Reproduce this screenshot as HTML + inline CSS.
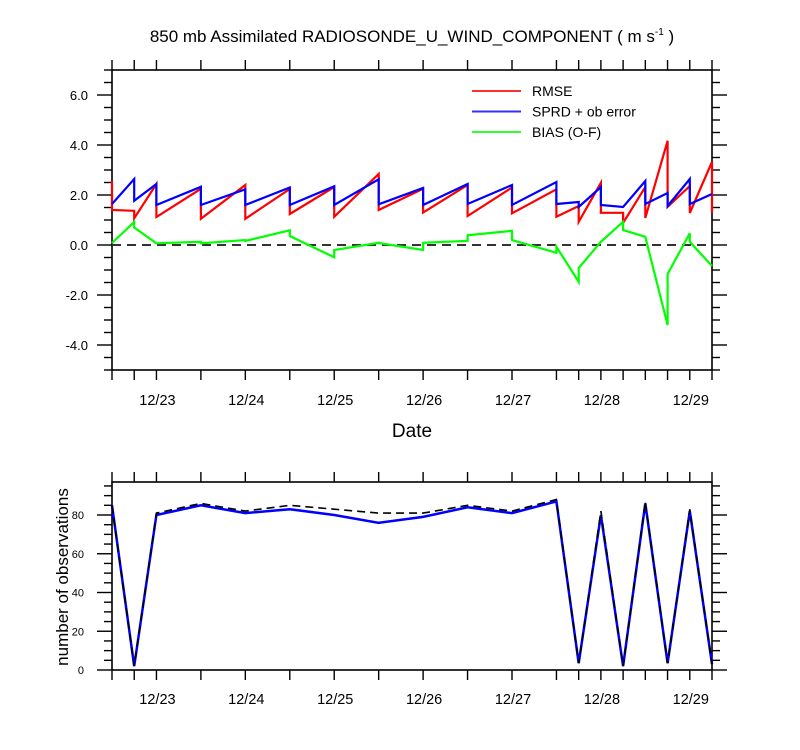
<!DOCTYPE html>
<html><head><meta charset="utf-8"><style>
body{margin:0;background:#fff}
svg{display:block;font-family:"Liberation Sans",sans-serif}
</style></head><body>
<svg id="c" width="800" height="750" viewBox="0 0 800 750"></svg>
<script>
// times in days relative to 12/23 00Z
const times=[-0.5,-0.25,0,0.5,1,1.5,2,2.5,3,3.5,4,4.5,4.75,5,5.25,5.5,5.75,6,6.25];
const rmsePre =[2.56,1.37,2.44,2.25,2.4,2.24,2.32,2.84,2.25,2.4,2.3,2.23,1.56,2.49,1.29,2.32,4.17,2.36,3.33];
const rmsePost=[1.4,1.07,1.12,1.05,1.05,1.24,1.13,1.4,1.3,1.16,1.27,1.13,0.93,1.29,0.88,1.08,1.53,1.28,1.28];
const sprdPre =[1.64,2.64,2.44,2.33,2.23,2.3,2.35,2.63,2.28,2.44,2.4,2.52,1.72,2.32,1.52,2.56,2.08,2.64,2.04];
const sprdPost=[1.64,1.77,1.6,1.6,1.6,1.6,1.6,1.63,1.6,1.64,1.6,1.64,1.52,1.6,1.52,1.64,1.56,1.64,2.04];
const biasPre =[0.08,0.92,0.07,0.13,0.2,0.59,-0.49,0.09,-0.2,0.17,0.57,-0.31,-1.47,0.13,0.93,0.33,-3.2,0.47,-0.84];
const biasPost=[0.08,0.7,0.07,0.07,0.16,0.36,-0.2,0.08,0.09,0.39,0.2,-0.07,-0.92,0.13,0.6,0.33,-1.16,0.13,-0.84];
const obsUsed =[85,2,80,85,81,83,80,76,79,84,81,87,3.5,80,2,86,3.5,82,3];
const obsTotal=[85,2,81,86,82,85,83,81,81,85,82,88,3.5,82,2,87,3.5,83,3];
const dayLabels=["12/23","12/24","12/25","12/26","12/27","12/28","12/29"];
const dayTicks=[0,1,2,3,4,5,6];
const topYTicks=[-4,-2,0,2,4,6];
const botYTicks=[0,20,40,60,80];

const NS="http://www.w3.org/2000/svg";
const svg=document.getElementById('c');
function el(tag,attrs,parent){const e=document.createElementNS(NS,tag);for(const k in attrs)e.setAttribute(k,attrs[k]);(parent||svg).appendChild(e);return e;}
const X0=112,X1=712;
const x=t=>X0+(t+0.5)/6.75*(X1-X0);
const yTop=v=>245-25*v;
const yBot=v=>670-v*155/80;

// title
let t=el('text',{x:412,y:42,'text-anchor':'middle','font-size':17,fill:'#000'});

t.innerHTML='850 mb Assimilated RADIOSONDE_U_WIND_COMPONENT ( m s<tspan dy="-7" font-size="10">-1</tspan><tspan dy="7"> )</tspan>';

function frame(top,bot,name){
  const g=el('g',{});
  
  el('rect',{x:X0,y:top,width:X1-X0,height:bot-top,fill:'none',stroke:'#000','stroke-width':1.6},g);
  times.forEach(tt=>{
    el('line',{x1:x(tt),x2:x(tt),y1:top,y2:top-10,stroke:'#000','stroke-width':1.4},g);
    el('line',{x1:x(tt),x2:x(tt),y1:bot,y2:bot+10,stroke:'#000','stroke-width':1.4},g);
  });
  return g;
}

// TOP PLOT
const g1=frame(70,370,'top-panel');
for(let v=-5;v<=7;v+=0.5){
  const yy=yTop(v); if(yy<70||yy>370)continue;
  const major=topYTicks.includes(v);
  const L=major?15:8;
  el('line',{x1:X0-L,x2:X0,y1:yy,y2:yy,stroke:'#000','stroke-width':1.4},g1);
  el('line',{x1:X1,x2:X1+L,y1:yy,y2:yy,stroke:'#000','stroke-width':1.4},g1);
}
topYTicks.forEach(v=>{
  const tx=el('text',{x:88,y:yTop(v)+5,'text-anchor':'end','font-size':13},g1);
  
  tx.textContent=v.toFixed(1);
});
dayTicks.forEach((d,i)=>{
  const tx=el('text',{x:x(d)+1,y:405,'text-anchor':'middle','font-size':14.5},g1);
  
  tx.textContent=dayLabels[i];
});
let dl=el('text',{x:412,y:437,'text-anchor':'middle','font-size':19},g1);

dl.textContent='Date';
el('line',{x1:X0,x2:X1,y1:yTop(0),y2:yTop(0),stroke:'#333','stroke-width':2,'stroke-dasharray':'9,6'},g1);

function saw(pre,post,color,name){
  let d='';
  times.forEach((tt,i)=>{
    d+=(i===0?'M':'L')+x(tt).toFixed(1)+','+yTop(pre[i]).toFixed(1);
    d+='L'+x(tt).toFixed(1)+','+yTop(post[i]).toFixed(1);
  });
  const p=el('path',{d:d,fill:'none',stroke:color,'stroke-width':2.2,'stroke-linejoin':'miter'},g1);
  
}
saw(rmsePre,rmsePost,'#ff0000','rmse-line');
saw(biasPre,biasPost,'#00ff00','bias-line');
saw(sprdPre,sprdPost,'#0000ff','spread-line');

const legend=[['RMSE','#ff3030'],['SPRD + ob error','#3030ff'],['BIAS (O-F)','#30ff30']];
const lg=el('g',{},g1);

legend.forEach((L,i)=>{
  const yy=91+i*20.5;
  el('line',{x1:472,x2:521,y1:yy,y2:yy,stroke:L[1],'stroke-width':2},lg);
  const tx=el('text',{x:532,y:yy+5,'font-size':14},lg);
  
  tx.textContent=L[0];
});

// BOTTOM PLOT
const g2=frame(482,670,'bottom-panel');
for(let v=0;v<=95;v+=5){
  const yy=yBot(v);
  const major=v%20===0;
  const L=major?15:8;
  el('line',{x1:X0-L,x2:X0,y1:yy,y2:yy,stroke:'#000','stroke-width':1.4},g2);
  el('line',{x1:X1,x2:X1+L,y1:yy,y2:yy,stroke:'#000','stroke-width':1.4},g2);
}
botYTicks.forEach(v=>{
  const tx=el('text',{x:84,y:yBot(v)+4,'text-anchor':'end','font-size':11},g2);
  
  tx.textContent=v;
});
dayTicks.forEach((d,i)=>{
  const tx=el('text',{x:x(d)+1,y:704,'text-anchor':'middle','font-size':14.5},g2);
  
  tx.textContent=dayLabels[i];
});
let yt=el('text',{x:0,y:0,'text-anchor':'middle','font-size':17,transform:'translate(68,577) rotate(-90)'},g2);

yt.textContent='number of observations';
function line(vals,attrs,name){
  const d=times.map((tt,i)=>(i?'L':'M')+x(tt).toFixed(1)+','+yBot(vals[i]).toFixed(1)).join('');
  const p=el('path',Object.assign({d:d,fill:'none'},attrs),g2);
  
}
line(obsUsed,{stroke:'#0000ff','stroke-width':2.5},'obs-used-line');
line(obsTotal,{stroke:'#000','stroke-width':1.6,'stroke-dasharray':'8,5'},'obs-total-line');
</script>
</body></html>
